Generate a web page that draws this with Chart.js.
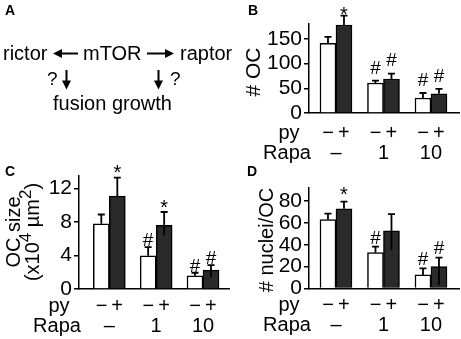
<!DOCTYPE html>
<html>
<head>
<meta charset="utf-8">
<script src="https://cdn.jsdelivr.net/npm/chart.js@4.4.0/dist/chart.umd.min.js"></script>
<style>
    body { margin: 0; background: #fff; }
    #fig { position: relative; width: 461px; height: 339px; overflow: hidden; }
    #fig canvas, #fig svg { position: absolute; }
    #overlay { left: 0; top: 0; pointer-events: none; }
</style>
</head>
<body>
<div id="fig">
    <canvas id="chartB" width="231" height="170" style="left:230px;top:0px"></canvas>
    <canvas id="chartC" width="230" height="179" style="left:0px;top:160px"></canvas>
    <canvas id="chartD" width="231" height="179" style="left:230px;top:160px"></canvas>
    <svg id="overlay" width="461" height="339" font-family="Liberation Sans, Arial, sans-serif">
        <!-- panel letters -->
        <g font-size="14" font-weight="bold">
            <text x="5" y="15">A</text>
            <text x="248" y="15">B</text>
            <text x="5" y="176">C</text>
            <text x="247" y="176">D</text>
        </g>
        <!-- panel A: signalling diagram -->
        <g font-size="20">
            <text x="3" y="59.5">rictor</text>
            <text x="83" y="59.5">mTOR</text>
            <text x="180" y="59.5">raptor</text>
            <text x="47" y="85" font-size="19">?</text>
            <text x="170" y="85" font-size="19">?</text>
            <text x="53" y="110">fusion growth</text>
        </g>
        <g stroke="#000" stroke-width="2">
            <line x1="78" y1="53.5" x2="60" y2="53.5"/>
            <line x1="147" y1="53.5" x2="166" y2="53.5"/>
            <line x1="66.5" y1="70" x2="66.5" y2="82"/>
            <line x1="158.5" y1="70" x2="158.5" y2="82"/>
        </g>
        <g fill="#000">
            <polygon points="53,53.5 62,49 62,58"/>
            <polygon points="174,53.5 165,49 165,58"/>
            <polygon points="66.5,89.5 62,80.5 71,80.5"/>
            <polygon points="158.5,89.5 154,80.5 163,80.5"/>
        </g>
    </svg>
</div>
<script>
const FONT = '"Liberation Sans", Arial, sans-serif';

// x axis groups (rapamycin dose) and the py -/+ pair under each group
const rapaDoses = ['–', '1', '10'];
const pySigns = '−\u2009+';

// B: number of OC
const ocCountNoPy = [141, 60.7, 30.4];
const ocCountNoPyErr = [12.8, 4.7, 10.1];
const ocCountPy = [178, 68.8, 39];
const ocCountPyErr = [19, 10.8, 9.6];
const ocCountMarksNoPy = ['', '#', '#'];
const ocCountMarksPy = ['*', '#', '#'];
const ocCountTicks = [0, 50, 100, 150];

// C: OC size (x10^4 um^2)
const ocSizeNoPy = [7.8, 3.96, 1.58];
const ocSizeNoPyErr = [1.1, 1.04, 0.36];
const ocSizePy = [11.1, 7.6, 2.26];
const ocSizePyErrUp = [2.2, 1.6, 0.6];
const ocSizePyErrDown = [0, 1.2, 0.85];
const ocSizeMarksNoPy = ['', '#', '#'];
const ocSizeMarksPy = ['*', '*', '#'];
const ocSizeTicks = [0, 4, 8, 12];

// D: number of nuclei per OC
const nucleiNoPy = [63, 32.8, 12.4];
const nucleiNoPyErr = [5.5, 5.5, 6.1];
const nucleiPy = [73, 52.8, 20];
const nucleiPyErrUp = [6.5, 15.2, 8.3];
const nucleiPyErrDown = [0, 17.5, 16.8];
const nucleiMarksNoPy = ['', '#', '#'];
const nucleiMarksPy = ['*', '', '#'];
const nucleiTicks = [0, 20, 40, 60, 80];

Chart.defaults.font.family = FONT;
Chart.defaults.color = '#000';

/**
 * Error bars plus the significance marks above them
 */
const errorMarks = {
    id: 'errorMarks',
    afterDatasetsDraw(chart, args, opts) {
        const ctx = chart.ctx;
        const y = chart.scales.y;
        chart.data.datasets.forEach((ds, i) => {
            chart.getDatasetMeta(i).data.forEach((bar, j) => {
                const v = ds.data[j];
                const top = y.getPixelForValue(v + ds.errUp[j]);
                const bottom = y.getPixelForValue(v - (ds.errDown ? ds.errDown[j] : 0));
                ctx.save();
                ctx.strokeStyle = '#000';
                ctx.lineWidth = 1.8;
                ctx.beginPath();
                ctx.moveTo(bar.x, bottom);
                ctx.lineTo(bar.x, top);
                ctx.moveTo(bar.x - 3.5, top);
                ctx.lineTo(bar.x + 3.5, top);
                ctx.stroke();
                const m = ds.marks[j];
                if (m) {
                    const size = m === '*' ? 20 : 19;
                    const gap = m === '*' ? opts.starGap : opts.hashGap;
                    const k = m === '*' ? 0.58 : 0.36;
                    ctx.font = size + 'px ' + FONT;
                    ctx.fillStyle = '#000';
                    ctx.textAlign = 'center';
                    ctx.textBaseline = 'alphabetic';
                    ctx.fillText(m, bar.x, top - gap + k * size);
                }
                ctx.restore();
            });
        });
    }
};

/**
 * "py" and "Rapa" row names left of the x axis labels
 */
const rowTitles = {
    id: 'rowTitles',
    afterDraw(chart) {
        const ctx = chart.ctx;
        const x = chart.scales.x;
        const pad = x.options.ticks.padding;
        const cx = chart.chartArea.left - 22;
        ctx.save();
        ctx.font = '20px ' + FONT;
        ctx.fillStyle = '#000';
        ctx.textAlign = 'center';
        ctx.textBaseline = 'middle';
        ctx.fillText('py', cx + 2, x.top + pad + 10);
        ctx.fillText('Rapa', cx, x.top + pad + 30);
        ctx.restore();
    }
};

/**
 * Rotated y axis title, with raised superscripts where needed
 */
const yTitle = {
    id: 'yTitle',
    afterDraw(chart, args, opts) {
        const ctx = chart.ctx;
        ctx.save();
        ctx.fillStyle = '#000';
        ctx.textAlign = 'left';
        ctx.textBaseline = 'alphabetic';
        opts.lines.forEach(line => {
            let w = 0;
            line.segs.forEach(s => {
                ctx.font = s.size + 'px ' + FONT;
                w += ctx.measureText(s.text).width;
            });
            ctx.save();
            ctx.translate(line.x, opts.cy);
            ctx.rotate(-Math.PI / 2);
            let pos = -w / 2;
            line.segs.forEach(s => {
                ctx.font = s.size + 'px ' + FONT;
                ctx.fillText(s.text, pos, -(s.rise || 0));
                pos += ctx.measureText(s.text).width;
            });
            ctx.restore();
        });
        ctx.restore();
    }
};

function makeChart(id, p) {
    return new Chart(document.getElementById(id), {
        type: 'bar',
        data: {
            labels: [1, 2, 3],
            datasets: [{
                data: p.white,
                errUp: p.whiteErr,
                marks: p.whiteMarks,
                backgroundColor: '#fff',
                borderColor: '#000',
                borderWidth: 1.5,
                barThickness: 16
            }, {
                data: p.black,
                errUp: p.blackErrUp,
                errDown: p.blackErrDown,
                marks: p.blackMarks,
                backgroundColor: '#2a2a2a',
                borderColor: '#000',
                borderWidth: 1.5,
                barThickness: 16
            }]
        },
        options: {
            responsive: false,
            animation: false,
            events: [],
            layout: { padding: { top: p.padTop, right: p.padRight, left: 0, bottom: 0 } },
            plugins: {
                legend: { display: false },
                tooltip: { enabled: false },
                errorMarks: { hashGap: p.hashGap, starGap: p.starGap },
                yTitle: p.title
            },
            scales: {
                x: {
                    type: 'linear',
                    offset: false,
                    min: p.xMin,
                    max: p.xMax,
                    grid: { display: false, drawTicks: false },
                    border: { display: true, color: '#000', width: 1.5 },
                    afterBuildTicks: s => { s.ticks = [1, 2, 3].map(v => ({ value: v })); },
                    afterFit: s => { s.height = p.xHeight; },
                    ticks: {
                        autoSkip: false,
                        maxRotation: 0,
                        padding: p.xPad,
                        font: { size: 20, lineHeight: 1 },
                        callback: v => [pySigns, rapaDoses[v - 1]]
                    }
                },
                y: {
                    min: 0,
                    max: p.yMax,
                    grid: { drawOnChartArea: false, tickLength: 5, color: '#000', lineWidth: 1.5 },
                    border: { display: true, color: '#000', width: 1.5 },
                    afterBuildTicks: s => { s.ticks = p.ticks.map(v => ({ value: v })); },
                    afterFit: s => { s.width = 79; },
                    ticks: { padding: 2, font: { size: 21, lineHeight: 1 } }
                }
            }
        },
        plugins: [errorMarks, rowTitles, yTitle]
    });
}

makeChart('chartB', {
    white: ocCountNoPy, whiteErr: ocCountNoPyErr, whiteMarks: ocCountMarksNoPy,
    black: ocCountPy, blackErrUp: ocCountPyErr, blackErrDown: null, blackMarks: ocCountMarksPy,
    ticks: ocCountTicks, yMax: 180,
    padTop: 24, padRight: 2, xHeight: 57, xPad: 10,
    xMin: 0.432, xMax: 3.59,
    hashGap: 14, starGap: 6,
    title: { cy: 72, lines: [{ x: 30, segs: [{ text: '# OC', size: 21 }] }] }
});

makeChart('chartC', {
    white: ocSizeNoPy, whiteErr: ocSizeNoPyErr, whiteMarks: ocSizeMarksNoPy,
    black: ocSizePy, blackErrUp: ocSizePyErrUp, blackErrDown: ocSizePyErrDown, blackMarks: ocSizeMarksPy,
    ticks: ocSizeTicks, yMax: 13.5,
    padTop: 16, padRight: 1, xHeight: 50, xPad: 7,
    xMin: 0.353, xMax: 3.555,
    hashGap: 8, starGap: 10,
    title: {
        cy: 72,
        lines: [
            { x: 20, segs: [{ text: 'OC size', size: 20 }] },
            { x: 39, segs: [
                { text: '(x10', size: 20 },
                { text: '4', size: 17, rise: 8 },
                { text: ' µm', size: 20 },
                { text: '2', size: 17, rise: 8 },
                { text: ')', size: 20 }
            ] }
        ]
    }
});

makeChart('chartD', {
    white: nucleiNoPy, whiteErr: nucleiNoPyErr, whiteMarks: nucleiMarksNoPy,
    black: nucleiPy, blackErrUp: nucleiPyErrUp, blackErrDown: nucleiPyErrDown, blackMarks: nucleiMarksPy,
    ticks: nucleiTicks, yMax: 92,
    padTop: 28, padRight: 2, xHeight: 50.5, xPad: 7,
    xMin: 0.432, xMax: 3.59,
    hashGap: 10, starGap: 12,
    title: { cy: 80, lines: [{ x: 43, segs: [{ text: '# nuclei/OC', size: 20 }] }] }
});
</script>
</body>
</html>
